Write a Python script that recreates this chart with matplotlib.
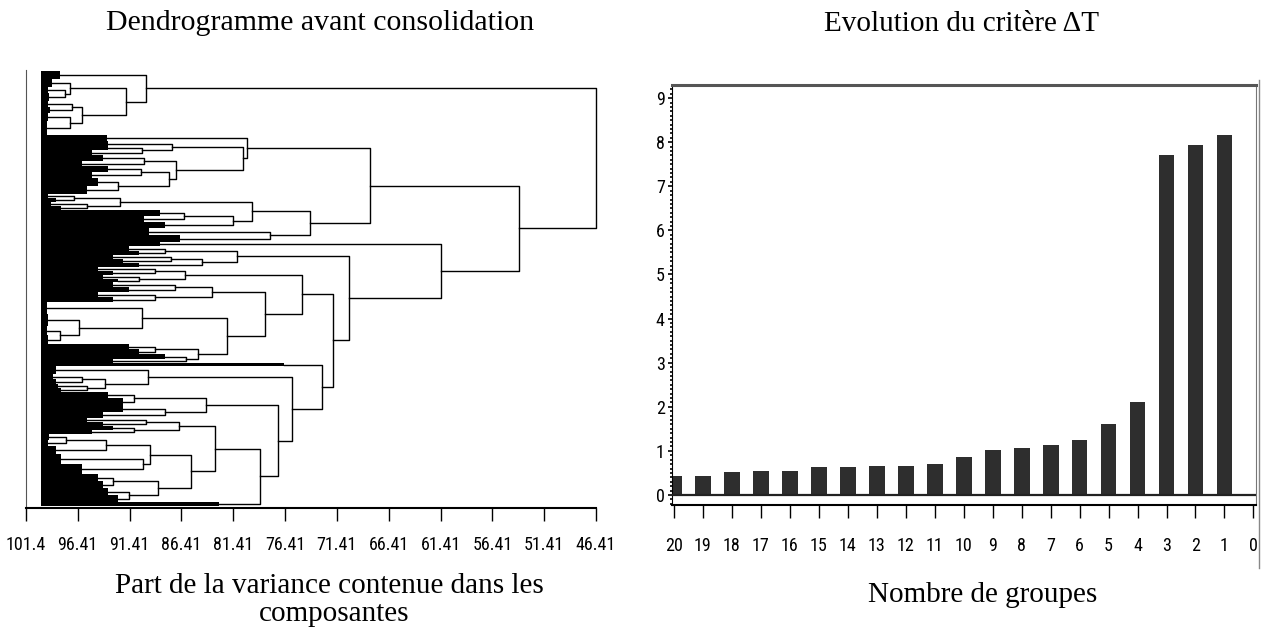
import matplotlib
matplotlib.use("Agg")
import matplotlib.pyplot as plt
from matplotlib import font_manager as fm
from matplotlib.lines import Line2D
from matplotlib.ticker import MultipleLocator

# --- dendrogramme : (nb feuilles, niveau) = paquet terminal, [niveau, haut, bas] = fusion
leaf_level = 100.0
cluster_a = [89.8, (8, 98.1),
             [91.8,
              [97.15, (8, 98.9), [97.6, (6, 99.3), (8, 99.2)]],
              [95.97, [97.0, (6, 99.3), (6, 99.1)], [97.2, (8, 99.3), (14, 99.4)]]]]
cluster_b1a = [80.1, (6, 93.6),
               [80.5,
                [87.3, (5, 93.5), [90.2, (4, 93.5), (5, 95.0)]],
                [86.95, [90.0, (6, 94.0), (5, 96.0)],
                 [87.6, [90.3, (6, 93.5), (6, 95.0)], [92.5, (8, 94.5), (8, 95.5)]]]]]
cluster_b1b = [74.0,
               [79.6,
                [92.3, [96.8, (4, 99.3), (4, 98.5)], [95.5, (4, 99.0), (4, 98.0)]],
                [81.4, [86.2, (6, 88.5), (6, 90.0)], (6, 88.0)]],
               [77.9, (7, 89.5), (7, 86.5)]]
cluster_b2b1 = [81.0, [88.0, (5, 91.5), (4, 90.5)],
                [84.4, [87.4, (4, 93.0), (4, 92.0)], (4, 90.5)]]
cluster_n1 = [74.8,
              [86.1, [89.0, (4, 94.5), (4, 93.0)], [90.5, (4, 94.0), (3, 92.5)]],
              [78.3,
               [83.5, [87.0, (5, 93.0), (5, 91.5)], [89.0, (5, 94.5), (5, 93.0)]],
               [82.0,
                [90.2, (12, 99.4), [96.3, (12, 99.3), [98.1, (9, 99.4), (9, 99.3)]]],
                [84.85, [89.0, (5, 91.5), (5, 90.5)], [86.0, (5, 88.0), (4, 93.0)]]]]]
cluster_n2 = [72.8, (3, 76.5),
              [75.7,
               [89.6, (8, 98.5), [93.8, [96.0, (5, 98.8), (5, 98.5)], [95.5, (4, 98.3), (4, 98.0)]]],
               [77.1,
                [84.0, [91.0, (6, 93.5), (7, 92.0)], [88.0, (7, 92.0), (6, 94.0)]],
                [78.8,
                 [83.2,
                  [86.6, [89.8, (4, 95.5), (4, 94.0)], [91.0, (4, 93.0), (4, 95.0)]],
                  [85.5,
                   [89.4, [93.7, [97.5, (6, 99.2), (6, 99.3)], (8, 98.5)], [90.1, (10, 98.0), (10, 96.0)]],
                   [88.7, [93.0, (7, 94.5), (7, 94.0)], [91.5, (7, 93.5), (7, 92.5)]]]],
                 (4, 82.8)]]]]
cluster_b2 = [61.4, (4, 88.5), [70.2, cluster_b2b1, [71.8, cluster_n1, cluster_n2]]]
dendro = [46.41, cluster_a, [53.8, [68.2, cluster_b1a, cluster_b1b], cluster_b2]]

variance_ticks = [101.4, 96.41, 91.41, 86.41, 81.41, 76.41, 71.41, 66.41, 61.41, 56.41, 51.41, 46.41]
variance_labels = ["101.4", "96.41", "91.41", "86.41", "81.41", "76.41",
                   "71.41", "66.41", "61.41", "56.41", "51.41", "46.41"]

# --- critere delta T
groups = [20, 19, 18, 17, 16, 15, 14, 13, 12, 11, 10, 9, 8, 7, 6, 5, 4, 3, 2, 1]
delta_t = [0.44, 0.44, 0.51, 0.55, 0.55, 0.63, 0.63, 0.66, 0.66, 0.70,
           0.86, 1.02, 1.06, 1.13, 1.25, 1.60, 2.10, 7.71, 7.94, 8.16]

W, H = 1261, 633
serif = ["Liberation Serif", "DejaVu Serif"]

# police etroite pour les graduations si disponible
tick_font = {"family": "DejaVu Sans", "fontsize": 10}
for f in fm.fontManager.ttflist:
    if f.name in ("Liberation Sans Narrow", "Roboto Condensed", "Open Sans Condensed"):
        tick_font = {"family": f.name, "fontsize": 13}
        break
    if f.name == "DejaVu Sans" and f.stretch == "condensed":
        tick_font = {"family": "DejaVu Sans", "fontstretch": "condensed", "fontsize": 11}

fig = plt.figure(figsize=(W / 100, H / 100), dpi=100)


def px(x, y):
    return x / W, 1 - y / H


# dendrogramme
ax1 = fig.add_axes([26 / W, 1 - 508 / H, 570 / W, 438 / H])


def draw(node, y0):
    if isinstance(node, tuple):
        n, v = node
        ax1.barh(y0 + n / 2, v - leaf_level, left=leaf_level, height=n,
                 color="black", linewidth=0)
        return y0 + n / 2, y0 + n, v
    v, top, bottom = node
    c1, y1, v1 = draw(top, y0)
    c2, y2, v2 = draw(bottom, y1)
    ax1.plot([v1, v, v, v2], [c1, c1, c2, c2], color="black", lw=1.0, clip_on=False)
    return (c1 + c2) / 2, y2, v


draw(dendro, 71)
ax1.set_xlim(101.4, 46.41)
ax1.set_ylim(508, 70)
ax1.spines[["top", "right"]].set_visible(False)
ax1.spines["left"].set_color("#555555")
ax1.spines["bottom"].set_linewidth(1.5)
ax1.set_yticks([])
ax1.set_xticks(variance_ticks)
ax1.set_xticklabels(variance_labels, **tick_font)
ax1.tick_params(axis="x", length=9, width=1, pad=11)

# barres
ax2 = fig.add_axes([671.6 / W, 1 - 505 / H, 584.2 / W, 420 / H])
ax2.bar(groups, delta_t, width=0.55, color="#2e2e2e", zorder=2)
ax2.axhline(0, color="#222222", lw=1.6, zorder=3)
ax2.set_xlim(20.07, -0.08)
ax2.set_ylim(-0.227, 9.297)
ax2.set_xticks(range(20, -1, -1))
ax2.set_xticklabels([str(k) for k in range(20, -1, -1)], **tick_font)
ax2.yaxis.set_major_locator(MultipleLocator(1))
ax2.yaxis.set_minor_locator(MultipleLocator(0.1))
ax2.set_yticks(range(0, 10))
ax2.set_yticklabels([str(k) for k in range(0, 10)], **tick_font)
ax2.tick_params(axis="x", length=9, width=1, pad=14)
ax2.tick_params(axis="y", which="major", length=3, width=1.2, pad=2)
ax2.tick_params(axis="y", which="minor", length=1.5, width=1.2)
ax2.spines["top"].set_linewidth(2.2)
ax2.spines["top"].set_color("#555555")
ax2.spines["right"].set_color("#777777")
ax2.spines["bottom"].set_linewidth(1.5)
fig.add_artist(Line2D([1258.5 / W] * 2, [1 - 80 / H, 1 - 568 / H], color="#888888", lw=1))

# textes
fig.text(*px(320, 30), "Dendrogramme avant consolidation", family=serif, fontsize=21.5,
         ha="center", va="baseline")
fig.text(*px(962, 31), "Evolution du critère ΔT", family=serif, fontsize=21,
         ha="center", va="baseline")
fig.text(*px(329, 593), "Part de la variance contenue dans les", family=serif, fontsize=21,
         ha="center", va="baseline")
fig.text(*px(334, 621), "composantes", family=serif, fontsize=21,
         ha="center", va="baseline")
fig.text(*px(983, 602), "Nombre de groupes", family=serif, fontsize=21,
         ha="center", va="baseline")

fig.savefig("out.png", dpi=100)
